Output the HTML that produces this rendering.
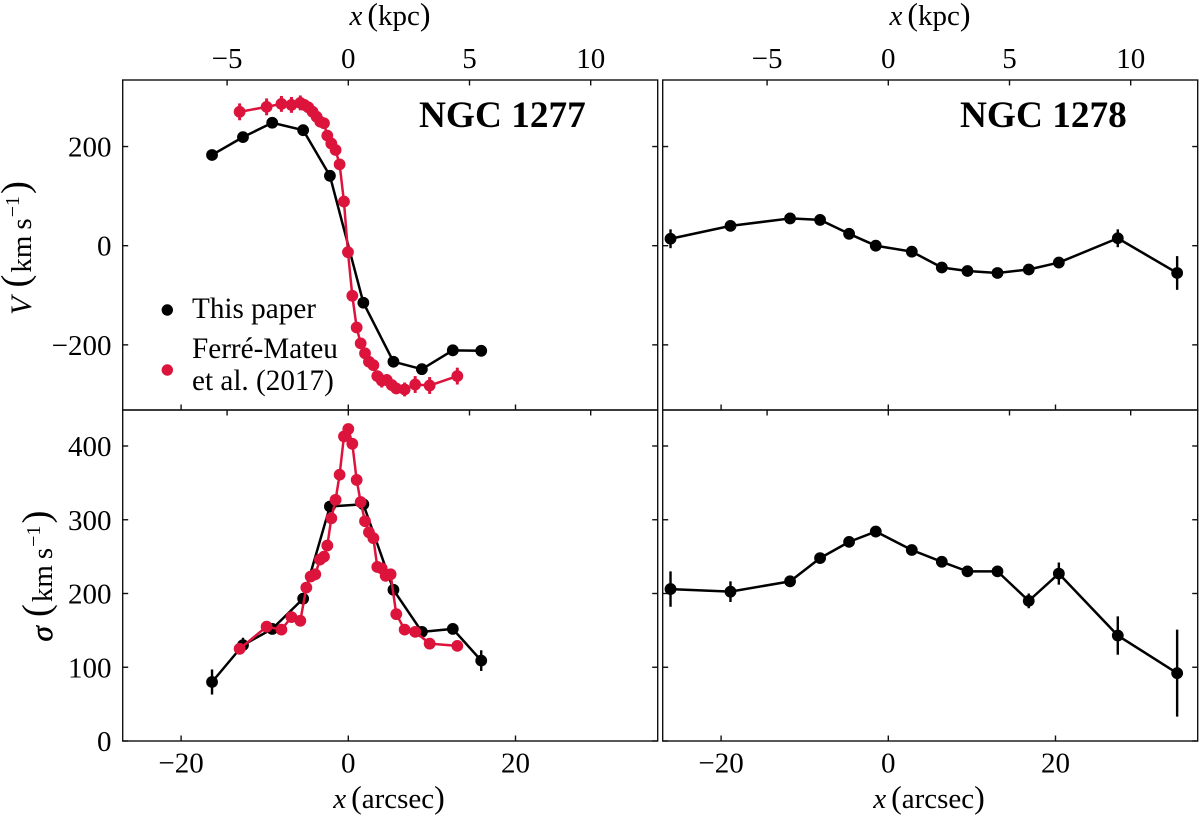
<!DOCTYPE html>
<html lang="en">
<head>
<meta charset="utf-8">
<title>NGC 1277 and NGC 1278 kinematic profiles</title>
<style>
html,body{margin:0;padding:0;background:#fff;}
svg{display:block;}
text{font-family:"Liberation Serif",serif;fill:#000;}
</style>
</head>
<body>
<svg id="chart" xmlns="http://www.w3.org/2000/svg" width="1200" height="817" viewBox="0 0 1200 817">
  <text x="192" y="318" font-size="29.2">This paper</text>
  <text x="192" y="358" font-size="29.2">Ferré-Mateu</text>
  <text x="192" y="390" font-size="29.2">et al. (2017)</text>
  <circle cx="167.3" cy="310" r="5.7" fill="#000"></circle>
  <circle cx="167.3" cy="370" r="5.7" fill="#dc143c"></circle>
  <text x="419" y="127" font-size="37.3" font-weight="bold">NGC 1277</text>
  <text x="960" y="127" font-size="37.3" font-weight="bold">NGC 1278</text>
  <text x="390" y="25" font-size="29" text-anchor="middle"><tspan font-style="italic">x</tspan><tspan dx="5" font-size="32">(</tspan><tspan>kpc</tspan><tspan font-size="32">)</tspan></text>
  <text x="930" y="25" font-size="29" text-anchor="middle"><tspan font-style="italic">x</tspan><tspan dx="5" font-size="32">(</tspan><tspan>kpc</tspan><tspan font-size="32">)</tspan></text>
  <text x="389" y="808" font-size="29" text-anchor="middle"><tspan font-style="italic">x</tspan><tspan dx="5" font-size="32">(</tspan><tspan>arcsec</tspan><tspan font-size="32">)</tspan></text>
  <text x="929" y="808" font-size="29" text-anchor="middle"><tspan font-style="italic">x</tspan><tspan dx="5" font-size="32">(</tspan><tspan>arcsec</tspan><tspan font-size="32">)</tspan></text>
  <text transform="translate(31,248) rotate(-90)" font-size="29" text-anchor="middle"><tspan font-style="italic" font-size="30">V</tspan><tspan dx="9" font-size="39" dy="-3">(</tspan><tspan dx="2" dy="3">km</tspan><tspan dx="6">s</tspan><tspan font-size="20" dy="-12" dx="1">−1</tspan><tspan font-size="39" dy="9" dx="2">)</tspan></text>
  <text transform="translate(52,576) rotate(-90)" font-size="29" text-anchor="middle"><tspan font-style="italic" font-size="31" stroke="#000" stroke-width="0.5">σ</tspan><tspan dx="9" font-size="39" dy="-3">(</tspan><tspan dx="2" dy="3">km</tspan><tspan dx="6">s</tspan><tspan font-size="20" dy="-12" dx="1">−1</tspan><tspan font-size="39" dy="9" dx="2">)</tspan></text>
</svg>
<script>
// ---- Tick values ----
var arcsecTicks = [-20, 0, 20];
var kpcTicks = [-5, 0, 5, 10];
var velocityTicks = [-200, 0, 200];
var sigmaTicks = [0, 100, 200, 300, 400];

// ---- NGC 1277, this paper ----
var n1277X = [-16.3, -12.6, -9.1, -5.4, -2.2, 1.8, 5.4, 8.8, 12.5, 15.9];
var n1277V = [183, 219, 248, 233, 141, -115, -234, -249, -211, -212];
var n1277VErr = [3, 3, 3, 3, 3, 3, 3, 3, 3, 3];
var n1277Sigma = [80, 130, 152, 193, 318, 321, 205, 148, 152, 109];
var n1277SigmaErr = [17, 10, 5, 5, 4, 4, 4, 4, 5, 14];

// ---- NGC 1277, Ferre-Mateu et al. (2017) ----
var fmVX = [-13.0, -9.77, -8.0, -6.8, -5.74, -5.26, -4.78, -4.27, -3.79, -3.35, -2.91, -2.51, -2.03, -1.52, -1.04, -0.52, -0.04, 0.48, 1.0, 1.48, 2.0, 2.47, 3.0, 3.47, 4.0, 4.6, 5.2, 5.74, 6.74, 8.0, 9.73, 13.04];
var fmV = [270, 280, 286, 284, 288, 284, 279, 270, 260, 250, 247, 222, 206, 193, 164, 89, -13, -101, -165, -197, -217, -234, -241, -263, -272, -271, -281, -288, -290, -280, -282, -263];
var fmVErr = [17, 17, 16, 16, 15, 10, 8, 6, 5, 5, 5, 5, 5, 4, 4, 4, 4, 4, 5, 5, 5, 5, 6, 6, 14, 12, 8, 8, 14, 17, 17, 17];
var fmSigmaX = [-13.0, -9.77, -8.0, -6.8, -5.74, -5.02, -4.5, -3.95, -3.39, -2.91, -2.51, -2.03, -1.52, -1.04, -0.52, 0, 0.48, 1.0, 1.48, 2.0, 2.47, 3.0, 3.47, 4.0, 4.47, 5.06, 5.74, 6.74, 8.0, 9.73, 13.04];
var fmSigma = [125, 155, 151, 168, 163, 208, 223, 226, 246, 250, 265, 302, 327, 361, 413, 423, 403, 354, 324, 298, 283, 275, 236, 234, 224, 226, 172, 151, 148, 132, 129];

// ---- NGC 1278, this paper ----
var n1278X = [-26.05, -18.88, -11.75, -8.16, -4.69, -1.5, 2.81, 6.4, 9.47, 13.06, 16.8, 20.4, 27.45, 34.55];
var n1278V = [14, 40, 55, 52, 24, 0, -12, -44, -51, -55, -48, -34, 15, -55];
var n1278VErr = [19, 6, 5, 5, 4, 4, 4, 4, 4, 4, 5, 6, 18, 34];
var n1278Sigma = [206, 202.5, 216.5, 248, 270, 284, 259, 243, 230, 230, 190, 227, 143, 92];
var n1278SigmaErr = [24, 14, 5, 5, 5, 4, 4, 4, 4, 4, 10, 15, 26, 59];

// ---- Panel geometry and axis functions ----
var svg = document.getElementById('chart');
var NS = 'http://www.w3.org/2000/svg';
var top1 = 80, mid = 410, bottom = 741;
var leftPanel = {x0: 122.7, x1: 657.7, key: 'left'};
var rightPanel = {x0: 662.7, x1: 1197.7, key: 'right'};

function xArcsec(panel, v) { return panel.x0 + 225.6 + v * 8.36; }
function xKpc(panel, v) { return panel.x0 + 225.6 + v * 24.24; }
function yVelocity(v) { return 245.7 - v * 0.4958; }
function ySigma(v) { return 741 - v * 0.7375; }
function label(v) { return v < 0 ? '\u2212' + Math.abs(v) : String(v); }

function tick(x1, y1, x2, y2, name) {
  var el = document.createElementNS(NS, 'line');
  
  
  el.setAttribute('x1', x1);
  el.setAttribute('y1', y1);
  el.setAttribute('x2', x2);
  el.setAttribute('y2', y2);
  el.setAttribute('stroke', '#111');
  el.setAttribute('stroke-width', '1.4');
  svg.appendChild(el);
}

function tickLabel(x, y, text, anchor, name) {
  var el = document.createElementNS(NS, 'text');
  
  
  el.setAttribute('x', x);
  el.setAttribute('y', y);
  el.setAttribute('font-size', '29');
  el.setAttribute('text-anchor', anchor);
  el.textContent = text;
  svg.appendChild(el);
}

function frame(panel, y0, y1, name) {
  var el = document.createElementNS(NS, 'rect');
  
  
  el.setAttribute('x', panel.x0);
  el.setAttribute('y', y0);
  el.setAttribute('width', panel.x1 - panel.x0);
  el.setAttribute('height', y1 - y0);
  el.setAttribute('fill', 'none');
  el.setAttribute('stroke', '#111');
  el.setAttribute('stroke-width', '1.4');
  svg.appendChild(el);
}

function drawAxes(panel, showLeftLabels) {
  frame(panel, top1, mid, 'velocity-panel-frame-' + panel.key);
  frame(panel, mid, bottom, 'dispersion-panel-frame-' + panel.key);
  kpcTicks.forEach(function (v) {
    var x = xKpc(panel, v);
    tick(x, top1, x, top1 + 5.5, 'top-kpc-tick');
    tick(x, mid, x, mid + 5.5, 'mid-kpc-tick');
    tickLabel(x, 68, label(v), 'middle', 'top-kpc-tick-label');
  });
  arcsecTicks.forEach(function (v) {
    var x = xArcsec(panel, v);
    tick(x, mid, x, mid - 5.5, 'mid-arcsec-tick');
    tick(x, bottom, x, bottom - 5.5, 'bottom-arcsec-tick');
    tickLabel(x, 772.6, label(v), 'middle', 'bottom-arcsec-tick-label');
  });
  velocityTicks.forEach(function (v) {
    var y = yVelocity(v);
    tick(panel.x0, y, panel.x0 + 5.5, y, 'velocity-tick');
    tick(panel.x1, y, panel.x1 - 5.5, y, 'velocity-tick-right');
    if (showLeftLabels) {
      tickLabel(111.5, y + 10, label(v), 'end', 'velocity-tick-label');
    }
  });
  sigmaTicks.forEach(function (v) {
    var y = ySigma(v);
    tick(panel.x0, y, panel.x0 + 5.5, y, 'dispersion-tick');
    tick(panel.x1, y, panel.x1 - 5.5, y, 'dispersion-tick-right');
    if (showLeftLabels) {
      tickLabel(111.5, y + 10, label(v), 'end', 'dispersion-tick-label');
    }
  });
}

function drawSeries(panel, xs, ys, errs, yFn, color, seriesName, errWidth) {
  var pts = xs.map(function (v, i) { return xArcsec(panel, v) + ',' + yFn(ys[i]); }).join(' ');
  var line = document.createElementNS(NS, 'polyline');
  
  
  line.setAttribute('points', pts);
  line.setAttribute('fill', 'none');
  line.setAttribute('stroke', color);
  line.setAttribute('stroke-width', '2.5');
  line.setAttribute('stroke-linejoin', 'round');
  svg.appendChild(line);
  xs.forEach(function (v, i) {
    var cx = xArcsec(panel, v);
    var cy = yFn(ys[i]);
    if (errs) {
      var bar = document.createElementNS(NS, 'line');
      
      
      bar.setAttribute('x1', cx);
      bar.setAttribute('x2', cx);
      bar.setAttribute('y1', yFn(ys[i] - errs[i]));
      bar.setAttribute('y2', yFn(ys[i] + errs[i]));
      bar.setAttribute('stroke', color);
      bar.setAttribute('stroke-width', errWidth);
      svg.appendChild(bar);
    }
    var dot = document.createElementNS(NS, 'circle');
    
    
    dot.setAttribute('cx', cx);
    dot.setAttribute('cy', cy);
    dot.setAttribute('r', '5.9');
    dot.setAttribute('fill', color);
    svg.appendChild(dot);
  });
}

drawAxes(leftPanel, true);
drawAxes(rightPanel, false);
drawSeries(leftPanel, n1277X, n1277V, n1277VErr, yVelocity, '#000', 'ngc1277-velocity-this-paper', 2.4);
drawSeries(leftPanel, fmVX, fmV, fmVErr, yVelocity, '#dc143c', 'ngc1277-velocity-ferre-mateu', 3);
drawSeries(leftPanel, n1277X, n1277Sigma, n1277SigmaErr, ySigma, '#000', 'ngc1277-dispersion-this-paper', 2.4);
drawSeries(leftPanel, fmSigmaX, fmSigma, null, ySigma, '#dc143c', 'ngc1277-dispersion-ferre-mateu', 3);
drawSeries(rightPanel, n1278X, n1278V, n1278VErr, yVelocity, '#000', 'ngc1278-velocity', 2.4);
drawSeries(rightPanel, n1278X, n1278Sigma, n1278SigmaErr, ySigma, '#000', 'ngc1278-dispersion', 2.4);
</script>
</body>
</html>
